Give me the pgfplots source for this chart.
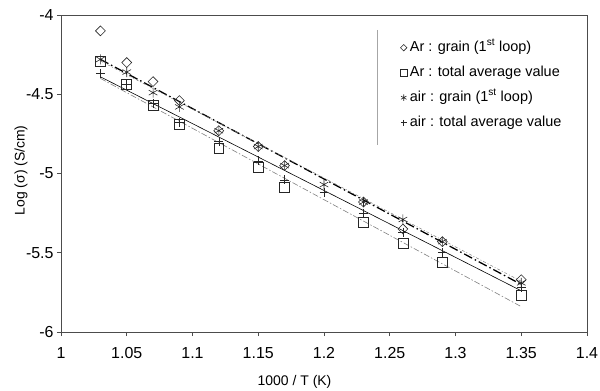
\documentclass[border=0pt]{standalone}
\usepackage{fontspec}
\setmainfont{Liberation Sans}
\usepackage{pgfplots}
\pgfplotsset{compat=1.18}
\begin{document}
\begin{tikzpicture}
\begin{axis}[
  scale only axis, width=526bp, height=317bp,
  xmin=1, xmax=1.4, ymin=-6, ymax=-4,
  xtick={1,1.05,1.1,1.15,1.2,1.25,1.3,1.35,1.4},
  xticklabels={1,1.05,1.1,1.15,1.2,1.25,1.3,1.35,1.4},
  ytick={-6,-5.5,-5,-4.5,-4},
  yticklabels={-6,-5.5,-5,-4.5,-4},
  tick align=outside, tick pos=left, major tick length=4bp,
  tick style={gray!60!black, line width=0.6pt},
  axis line style={gray!60!black, line width=0.6pt},
  ticklabel style={font=\fontsize{16}{16}\selectfont},
  xticklabel style={yshift=-8bp},
  xlabel={1000 / T (K)}, ylabel={Log (σ) (S/cm)},
  label style={font=\fontsize{14}{14}\selectfont},
  xlabel style={at={(axis description cs:0.444,-0.158)}, anchor=center},
  ylabel style={at={(axis description cs:-0.076,0.51)}, anchor=center},
  legend style={at={(axis description cs:0.645,0.918)}, anchor=north west,
    draw=none, fill=none, inner sep=0pt, row sep=12bp,
    nodes={inner xsep=3bp, inner ysep=0pt, anchor=west, text height=10bp, text depth=3bp},
    font=\fontsize{14.5}{14.5}\selectfont},
  legend cell align=left,
  legend image code/.code={\draw[mark repeat=2,mark phase=2, every mark/.append style={scale=0.65}] plot coordinates {(0bp,0bp)(5bp,0bp)(10bp,0bp)};},
]
% trend lines
\addplot[forget plot, black, line width=1.3pt, dash pattern=on 9bp off 3bp on 1.5bp off 3bp] coordinates {(1.03,-4.28)(1.35,-5.70)};
\addplot[forget plot, gray, line width=0.5pt, dash pattern=on 3bp off 2bp on 1bp off 2bp] coordinates {(1.03,-4.29)(1.35,-5.68)};
\addplot[forget plot, black, line width=0.6pt] coordinates {(1.03,-4.39)(1.35,-5.74)};
\addplot[forget plot, gray, line width=0.6pt, dash pattern=on 6bp off 2bp on 1.5bp off 2bp] coordinates {(1.03,-4.40)(1.35,-5.84)};
% data
\addplot[only marks, mark=square, mark size=3.5pt, black!85, mark options={solid, rotate=45, line width=0.6pt}] coordinates {
(1.03,-4.10)(1.05,-4.30)(1.07,-4.42)(1.09,-4.54)(1.12,-4.73)(1.15,-4.83)(1.17,-4.95)(1.23,-5.18)(1.26,-5.35)(1.29,-5.43)(1.35,-5.67)};
\addlegendentry{Ar : grain (1\textsuperscript{st} loop)}
\addplot[only marks, mark=square, mark size=5pt, black!85, mark options={solid, line width=0.6pt}] coordinates {
(1.03,-4.29)(1.05,-4.44)(1.07,-4.57)(1.09,-4.69)(1.12,-4.84)(1.15,-4.96)(1.17,-5.09)(1.23,-5.31)(1.26,-5.44)(1.29,-5.56)(1.35,-5.77)};
\addlegendentry{Ar : total average value}
\addplot[only marks, mark=asterisk, mark size=5pt, black!85, mark options={solid, line width=0.6pt}] coordinates {
(1.03,-4.28)(1.05,-4.36)(1.07,-4.49)(1.09,-4.58)(1.12,-4.73)(1.15,-4.83)(1.17,-4.95)(1.2,-5.07)(1.23,-5.18)(1.26,-5.29)(1.29,-5.43)(1.35,-5.69)};
\addlegendentry{air : grain (1\textsuperscript{st} loop)}
\addplot[only marks, mark=+, mark size=4.5pt, black!85, mark options={solid, line width=0.6pt}] coordinates {
(1.03,-4.37)(1.05,-4.44)(1.07,-4.56)(1.09,-4.68)(1.12,-4.80)(1.15,-4.92)(1.17,-5.04)(1.2,-5.12)(1.23,-5.25)(1.26,-5.37)(1.29,-5.50)(1.35,-5.72)};
\addlegendentry{air : total average value}
\draw[gray!70, line width=0.6pt] (axis description cs:0.601,0.953) -- (axis description cs:0.601,0.590);
\end{axis}
\pgfresetboundingbox
\path[use as bounding box] (current axis.south west) ++(-61bp,-59bp) rectangle ++(600bp,391bp);
\end{tikzpicture}
\end{document}
